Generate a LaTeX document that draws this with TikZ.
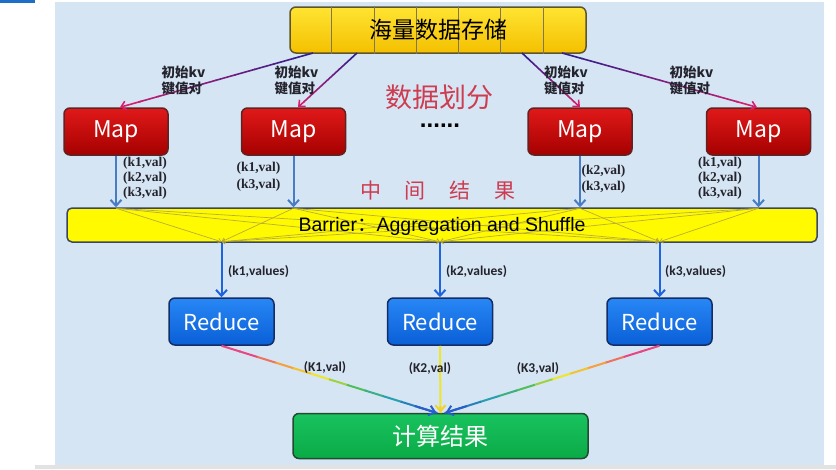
\documentclass[tikz,border=0pt]{standalone}
\usepackage{fontspec}
\setmainfont{Liberation Sans}
\newfontfamily\cjk{Noto Sans CJK SC}
\newfontfamily\serifb{Liberation Serif}
\newfontfamily\carl{Carlito}
\usetikzlibrary{arrows.meta,calc}

\definecolor{bgpanel}{RGB}{214,229,243}
\definecolor{pagetop}{RGB}{30,110,200}
\definecolor{graybar}{RGB}{226,226,226}
\definecolor{storeTop}{RGB}{255,228,50}
\definecolor{storeBot}{RGB}{244,192,0}
\definecolor{storeBorder}{RGB}{95,85,45}
\definecolor{mapTop}{RGB}{225,25,25}
\definecolor{mapBot}{RGB}{165,0,0}
\definecolor{mapBorder}{RGB}{95,35,35}
\definecolor{barFill}{RGB}{255,250,0}
\definecolor{barBorder}{RGB}{60,70,95}
\definecolor{redTop}{RGB}{40,135,245}
\definecolor{redBot}{RGB}{10,95,215}
\definecolor{redBorder}{RGB}{20,45,100}
\definecolor{resTop}{RGB}{25,195,95}
\definecolor{resBot}{RGB}{10,170,70}
\definecolor{resBorder}{RGB}{35,75,50}
\definecolor{pnavy}{RGB}{50,30,140}
\definecolor{pmag}{RGB}{215,30,110}
\definecolor{steel}{RGB}{72,125,198}
\definecolor{rblue}{RGB}{30,100,222}
\definecolor{olive}{RGB}{178,166,60}
\definecolor{hint}{RGB}{205,60,80}
\definecolor{labgray}{RGB}{35,35,45}
\colorlet{RP}{rgb,255:red,232;green,70;blue,130}
\colorlet{RO}{rgb,255:red,245;green,160;blue,60}
\colorlet{RY}{rgb,255:red,238;green,230;blue,40}
\colorlet{RG}{rgb,255:red,80;green,190;blue,90}
\colorlet{RT}{rgb,255:red,40;green,160;blue,175}
\colorlet{RB}{rgb,255:red,40;green,95;blue,200}

\newcommand{\purplearrow}[2]{%
  \foreach \ii in {0,...,8}{%
    \pgfmathsetmacro\ta{\ii/10}%
    \pgfmathsetmacro\tb{(\ii+1.05)/10}%
    \pgfmathtruncatemacro\pp{\ii*10}%
    \draw[line width=1.6pt, draw=pmag!\pp!pnavy] ($(#1)!\ta!(#2)$) -- ($(#1)!\tb!(#2)$);
  }%
  \draw[line width=1.6pt, draw=pmag, -{Straight Barb[length=5pt,width=9pt]}] ($(#1)!0.89!(#2)$) -- (#2);
}
\newcommand{\rainbowarrow}[4]{%
  \foreach \cc [count=\ii from 0] in {#3}{%
    \pgfmathsetmacro\ta{\ii/12}%
    \pgfmathsetmacro\tb{(\ii+1.05)/12}%
    \draw[line width=2pt, draw=\cc] ($(#1)!\ta!(#2)$) -- ($(#1)!\tb!(#2)$);
  }%
  \draw[line width=2pt, draw=#4, -{Straight Barb[length=6pt,width=10pt]}] ($(#1)!0.9!(#2)$) -- (#2);
}

\begin{document}
\begin{tikzpicture}[x=1pt,y=-1pt,
  box/.style={rounded corners=6pt, line width=1.5pt, inner sep=0pt},
  storebox/.style={box, draw=storeBorder, top color=storeTop, bottom color=storeBot, minimum width=296pt, minimum height=46pt},
  mapbox/.style={box, draw=mapBorder, top color=mapTop, bottom color=mapBot, minimum width=104pt, minimum height=47pt, text=white, font=\cjk\fontsize{23}{23}\selectfont},
  barbox/.style={box, rounded corners=5pt, draw=barBorder, fill=barFill, minimum width=750pt, minimum height=34pt},
  redbox/.style={box, draw=redBorder, top color=redTop, bottom color=redBot, minimum width=105pt, minimum height=47pt, text=white, font=\cjk\fontsize{22}{22}\selectfont},
  resbox/.style={box, draw=resBorder, top color=resTop, bottom color=resBot, minimum width=295pt, minimum height=45pt, text=white, font=\cjk\fontsize{24}{24}\selectfont},
  divider/.style={draw=storeBorder!80, line width=0.6pt},
  kvlab/.style={align=left, inner sep=0pt, text=labgray, font=\cjk\bfseries\fontsize{13.5}{16}\selectfont},
  vallab/.style={align=left, inner sep=0pt, text=labgray, font=\serifb\bfseries\fontsize{13.5}{15}\selectfont},
  valslab/.style={anchor=west, inner sep=0pt, text=labgray, font=\carl\bfseries\fontsize{13.5}{13.5}\selectfont},
  klab/.style={inner sep=0pt, text=labgray, font=\carl\bfseries\fontsize{13.5}{13.5}\selectfont},
  steelarrow/.style={draw=steel, line width=2pt, -{Straight Barb[length=6pt,width=11pt]}},
  bluearrow/.style={draw=rblue, line width=2pt, -{Straight Barb[length=6pt,width=11pt]}},
  shuffle/.style={draw=olive, line width=0.7pt, opacity=0.9, -{Straight Barb[length=3pt,width=5pt]}}
]
\useasboundingbox (0,0) rectangle (836,469);
% page background
\fill[white] (0,0) rectangle (836,469);
\fill[bgpanel] (55,2) rectangle (824,465);
\fill[graybar] (35,465) rectangle (836,469);
\fill[pagetop] (0,0) rectangle (35,2.5);

% storage box
\node[storebox] (store) at (438,30) {};
\foreach \k in {1,...,6}
  \draw[divider] ($(store.north west)+(42.3*\k,0)$) -- ($(store.south west)+(42.3*\k,0)$);
\node[inner sep=0pt, font=\cjk\fontsize{23}{23}\selectfont, text=black] (storetxt) at (store.center) {海量数据存储};

% map nodes
\node[mapbox] (m1) at (116,131.5) {Map};
\node[mapbox] (m2) at (293.5,131.5) {Map};
\node[mapbox] (m3) at (580,131.5) {Map};
\node[mapbox] (m4) at (758.5,131.5) {Map};

% data split arrows
\coordinate (s1) at (313,53);
\coordinate (s2) at (357,53);
\coordinate (s3) at (522,53);
\coordinate (s4) at (562,53);
\coordinate (e1) at ($(m1.north)+(4,0)$);
\coordinate (e2) at ($(m2.north)+(4.5,0)$);
\coordinate (e3) at (m3.north);
\coordinate (e4) at ($(m4.north)+(-1.5,0)$);
\purplearrow{s1}{e1}
\purplearrow{s2}{e2}
\purplearrow{s3}{e3}
\purplearrow{s4}{e4}

\node[kvlab] (kv1) at (183.5,80) {初始kv\\键值对};
\node[kvlab] (kv2) at (296.5,80) {初始kv\\键值对};
\node[kvlab] (kv3) at (566,80) {初始kv\\键值对};
\node[kvlab] (kv4) at (691.5,80) {初始kv\\键值对};

\node[inner sep=0pt, text=hint, font=\cjk\fontsize{27}{27}\selectfont] (split) at (439,97) {数据划分};
\node[inner sep=0pt, text=black, font=\bfseries\fontsize{24}{24}\selectfont] (dots) at (440,126) {......};

% barrier
\node[barbox] (bar) at (442,225) {};

% reduce nodes
\node[redbox] (r1) at (221.5,321.5) {Reduce};
\node[redbox] (r2) at (440,321.5) {Reduce};
\node[redbox] (r3) at (659.5,321.5) {Reduce};

\coordinate (t1) at (m1.south |- bar.north);
\coordinate (t2) at (m2.south |- bar.north);
\coordinate (t3) at (m3.south |- bar.north);
\coordinate (t4) at (m4.south |- bar.north);
\coordinate (b1) at (r1.north |- bar.south);
\coordinate (b2) at (r2.north |- bar.south);
\coordinate (b3) at (r3.north |- bar.south);

\foreach \t in {t1,t2,t3,t4}
  \foreach \b in {b1,b2,b3}
    \draw[shuffle] ($(\t)+(0,1)$) -- ($(\b)+(0,-1)$);

\node[inner sep=0pt, text=black, font=\fontsize{19.5}{19.5}\selectfont] (bartxt) at (442,226) {Barrier{\cjk ：}Aggregation and Shuffle};

% map -> barrier
\draw[steelarrow] (m1.south) -- (t1);
\draw[steelarrow] (m2.south) -- (t2);
\draw[steelarrow] (m3.south) -- (t3);
\draw[steelarrow] (m4.south) -- (t4);

\node[vallab] (v1) at (145,178.5) {(k1,val)\\(k2,val)\\(k3,val)};
\node[vallab] (v2) at (258.5,176.5) {(k1,val)\\[2pt](k3,val)};
\node[vallab] (v3) at (603.5,179) {(k2,val)\\[1pt](k3,val)};
\node[vallab] (v4) at (720,178) {(k1,val)\\(k2,val)\\(k3,val)};

\node[inner sep=0pt, text=hint, font=\cjk\fontsize{21}{21}\selectfont] (mid) at (438,191) {中\hspace{24pt}间\hspace{24pt}结\hspace{24pt}果};

% barrier -> reduce
\draw[bluearrow] (b1) -- (r1.north);
\draw[bluearrow] (b2) -- (r2.north);
\draw[bluearrow] (b3) -- (r3.north);
\node[valslab] (lv1) at (228,272) {(k1,values)};
\node[valslab] (lv2) at (446,272) {(k2,values)};
\node[valslab] (lv3) at (665,272) {(k3,values)};

% result
\node[resbox] (res) at (440.5,436) {计算结果};
\coordinate (f1) at ($(res.north)+(-4,0)$);
\coordinate (f2) at (res.north);
\coordinate (f3) at ($(res.north)+(5,0)$);
\rainbowarrow{r1.south}{f1}{RP,RP,RP!50!RO,RO,RO!50!RY,RY,RY!50!RG,RG,RG!50!RT,RT,RT!50!RB,RB}{RB}
\rainbowarrow{r3.south}{f3}{RP,RP,RP!50!RO,RO,RO!50!RY,RY,RY!50!RG,RG,RG!50!RT,RT,RT!50!RB,RB}{RB}
\rainbowarrow{r2.south}{f2}{RY,RY,RY,RY,RY,RY,RY,RY,RY,RY,RY,RY}{RY!70!RO}

\node[klab] (k1) at (325,368) {(K1,val)};
\node[klab] (k2) at (430,369) {(K2,val)};
\node[klab] (k3) at (538,369) {(K3,val)};
\end{tikzpicture}
\end{document}
